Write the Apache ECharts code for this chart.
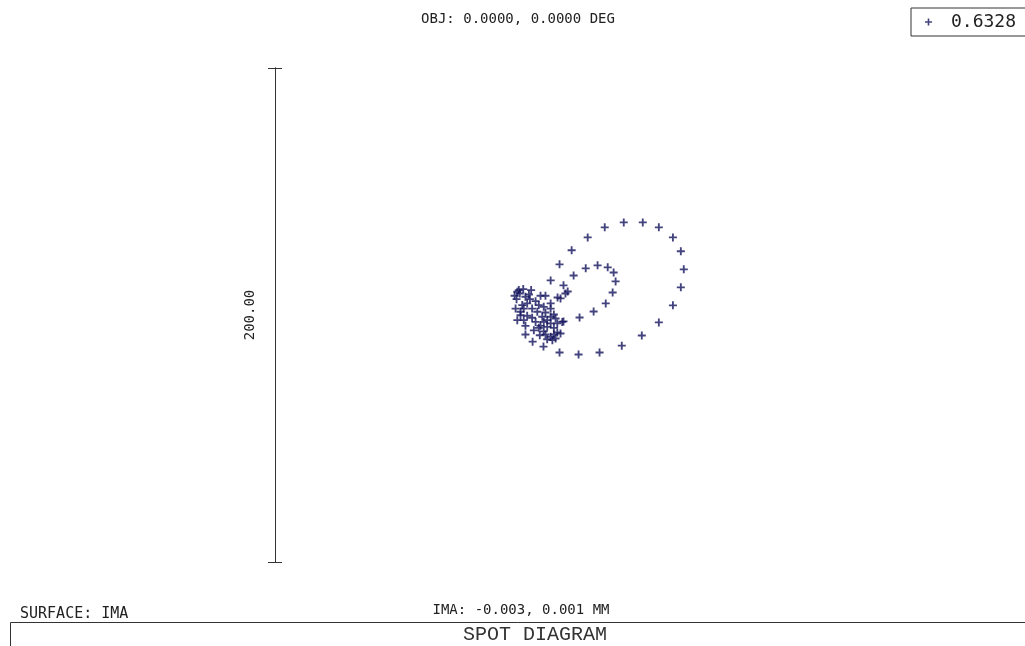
<!DOCTYPE html>
<html>
<head>
<meta charset="utf-8">
<script src="https://cdn.jsdelivr.net/npm/echarts@6/dist/echarts.min.js"></script>
<style>
html, body { margin: 0; padding: 0; background: #fff; }
#main { width: 1025px; height: 646px; }
</style>
</head>
<body>
<div id="main"></div>
<script>
// spot positions in microns, relative to the plot centre
const outerRing = [
	[41.2, 37.5], [48.9, 37.5], [33.5, 35.5], [55.4, 35.5], [26.6, 31.4], [61.1, 31.4],
	[20.1, 26.2], [64.3, 25.8], [65.5, 18.5], [64.3, 11.2], [61.1, 3.9], [55.4, -3.0],
	[48.5, -8.3], [40.4, -12.4], [31.4, -15.2], [22.9, -16.0], [15.2, -15.2], [8.7, -12.8],
	[4.3, -10.8]
]
const innerRing = [
	[15.2, 20.5], [25.8, 18.9], [30.6, 20.1], [34.7, 19.3], [37.1, 17.2], [37.9, 13.6],
	[36.7, 9.1], [33.9, 4.7], [29.0, 1.4], [23.3, -1.0], [16.8, -2.6], [20.9, 16.0],
	[11.6, 14.0], [16.8, 12.0], [18.5, 9.5], [14.4, 7.1], [17.6, 8.7], [15.6, 6.7]
]
const coreCluster = [
	[-3.0, 7.8], [-1.3, 10.1], [0.5, 10.5], [3.7, 10.1], [-0.9, 8.7], [1.4, 7.4],
	[-2.2, 6.4], [3.2, 6.4], [7.5, 7.8], [9.5, 7.8], [5.5, 5.6], [6.8, 4.0],
	[8.8, 3.3], [11.6, 4.7], [11.6, 2.6], [2.1, 4.7], [0.1, 4.0], [-2.6, 2.6],
	[0.7, 2.6], [4.1, 2.6], [6.2, 1.3], [9.5, 1.0], [-0.6, -0.1], [2.1, -0.3],
	[4.1, -1.1], [8.2, -0.7], [11.6, -0.7], [13.6, -1.4], [-1.9, -2.1], [0.7, -2.1],
	[5.5, -2.8], [8.8, -2.8], [11.6, -3.4], [14.3, -3.4], [16.3, -2.8], [1.4, -4.4],
	[7.5, -4.4], [10.2, -4.8], [12.9, -5.2], [4.8, -6.2], [8.8, -6.6], [14.3, -7.1],
	[15.6, -7.5], [1.4, -7.9], [7.2, -8.2], [11.6, -8.8], [13.6, -9.5], [10.2, -9.8],
	[12.3, -10.2], [-1.9, 9.4], [2.8, 8.3], [-0.6, 1.3], [10.2, -2.1], [12.9, 0.2],
	[6.8, -5.2], [9.5, -7.9], [12.9, -7.9]
]
const scaleBox = [0, 200] // microns
const wavelength = "0.6328"
const objText = "OBJ: 0.0000, 0.0000 DEG"
const imaText = "IMA: -0.003, 0.001 MM"
const surfaceText = "SURFACE: IMA"
const plotTitle = "SPOT DIAGRAM"

// filled plus, thicker arms so it reads like the plotter marks
const plusPath = 'path://M5,0h3v5h5v3h-5v5h-3v-5h-5v-3h5z'
const mono = 'DejaVu Sans Mono'
const dotColor = '#14145e'

const makeSeries = (data) => ({
	name: wavelength,
	type: 'scatter',
	xAxisIndex: 0,
	yAxisIndex: 0,
	symbol: plusPath,
	symbolSize: 8,
	itemStyle: { color: dotColor },
	silent: true,
	data: data
})

const scaleAxis = (inside) => ({
	type: 'value',
	position: 'left',
	min: scaleBox[0],
	max: scaleBox[1],
	interval: scaleBox[1] - scaleBox[0],
	axisLine: { show: true, lineStyle: { color: '#333', width: 1 } },
	axisTick: { show: true, inside: inside, length: 7, lineStyle: { color: '#333', width: 1 } },
	axisLabel: { show: false },
	splitLine: { show: false },
	name: inside ? '' : (scaleBox[1] - scaleBox[0]).toFixed(2),
	nameLocation: 'middle',
	nameRotate: 90,
	nameGap: 18,
	nameTextStyle: { fontFamily: mono, fontSize: 14, color: '#222' }
})

const textFont = { fontFamily: mono, fontSize: 14, fontWeight: 'normal', color: '#222' }

const option = {
	backgroundColor: '#fff',
	animation: false,
	title: [
		{ text: objText, left: 513, top: 7, textAlign: 'center', textStyle: textFont },
		{ text: imaText, left: 516, top: 598, textAlign: 'center', textStyle: textFont },
		{ text: surfaceText, left: 15, top: 602, textStyle: Object.assign({}, textFont, { fontSize: 15 }) },
		{ text: plotTitle, left: 530, top: 620, textAlign: 'center', textStyle: { fontFamily: 'Liberation Mono', fontSize: 20, fontWeight: 'normal', color: '#333' } }
	],
	legend: {
		data: [wavelength],
		left: 911,
		top: 8,
		padding: [5, 30, 5, 14],
		itemWidth: 7,
		itemHeight: 7,
		itemGap: 10,
		borderColor: '#333',
		borderWidth: 1,
		borderRadius: 0,
		selectedMode: false,
		icon: plusPath,
		itemStyle: { color: dotColor },
		textStyle: { fontFamily: mono, fontSize: 18, color: '#222', padding: [0, 0, 0, 14] }
	},
	grid: { left: 275, top: 68, width: 494, height: 494 },
	xAxis: {
		type: 'value', min: -100, max: 100, show: false
	},
	yAxis: [
		{ type: 'value', min: -100, max: 100, show: false },
		scaleAxis(false),
		scaleAxis(true)
	],
	graphic: [
		{ type: 'polyline', silent: true, shape: { points: [[10.5, 646], [10.5, 622.5], [1025, 622.5]] }, style: { stroke: '#333', lineWidth: 1, fill: null } }
	],
	series: [makeSeries(outerRing), makeSeries(innerRing), makeSeries(coreCluster)]
}

const chart = echarts.init(document.getElementById('main'), null, { renderer: 'canvas' })
chart.setOption(option)
</script>
</body>
</html>
